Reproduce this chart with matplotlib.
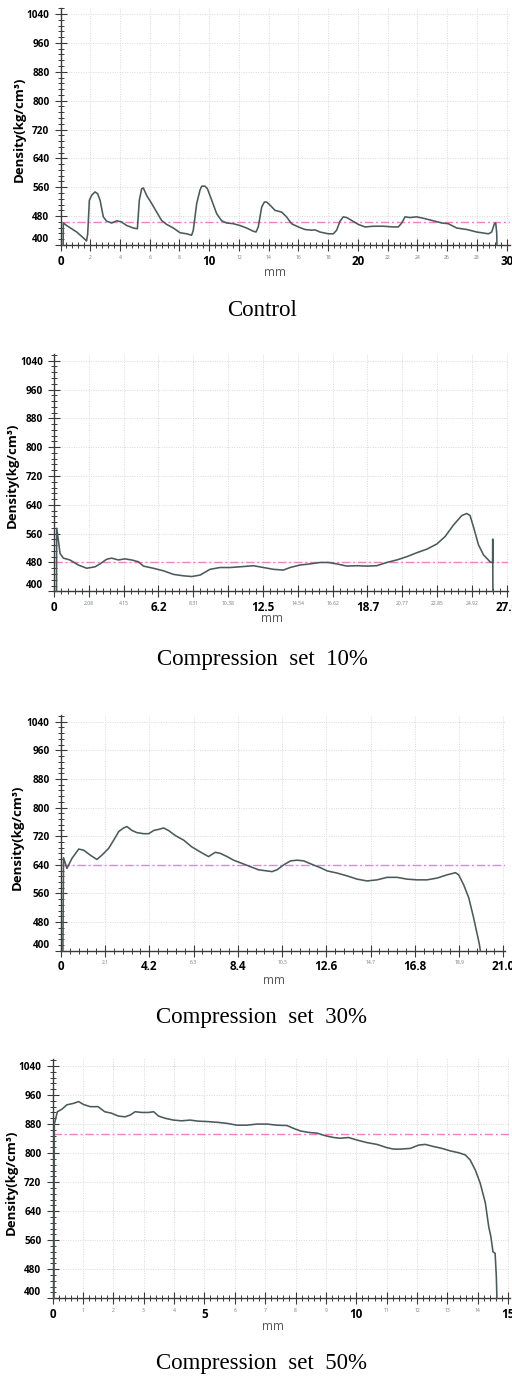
import matplotlib
matplotlib.use('Agg')
import matplotlib.pyplot as plt
from matplotlib.ticker import MultipleLocator

W, H, DPI = 512, 1377, 100
YTOP = 1058

# ---------------- data ----------------
control_x = [0.18, 0.19, 0.41, 1.09, 1.72, 1.75, 1.83, 1.94, 2.10, 2.32, 2.50, 2.66, 2.88, 3.10, 3.44, 3.78,
             4.10, 4.45, 4.90, 5.17, 5.30, 5.46, 5.57, 5.80, 6.13, 6.47, 6.80, 7.14, 7.59, 8.04, 8.49, 8.82,
             8.93, 9.16, 9.38, 9.50, 9.72, 9.88, 10.17, 10.50, 10.84, 11.18, 11.62, 12.07, 12.52, 12.97,
             13.15, 13.30, 13.53, 13.71, 13.87, 14.10, 14.43, 14.88, 15.20, 15.54, 15.99, 16.44, 16.89,
             17.11, 17.45, 18.01, 18.35, 18.57, 18.80, 19.02, 19.25, 19.58, 20.03, 20.48, 21.04, 21.71,
             22.38, 22.72, 22.95, 23.17, 23.50, 23.95, 24.51, 25.08, 25.64, 26.08, 26.65, 27.32, 27.99,
             28.78, 29.00, 29.18, 29.27, 29.34, 29.35]
control_y = [400, 461, 454, 436, 413, 411, 431, 524, 538, 547, 542, 524, 478, 466, 461, 467,
             464, 454, 447, 445, 524, 556, 558, 537, 515, 491, 468, 457, 447, 434, 431, 427,
             441, 515, 552, 563, 563, 556, 524, 487, 467, 461, 459, 454, 447, 438,
             436, 450, 505, 519, 519, 510, 496, 491, 478, 459, 450, 443, 441,
             442, 436, 431, 431, 441, 466, 478, 476, 468, 457, 450, 452, 452,
             450, 450, 461, 478, 476, 478, 473, 467, 461, 459, 447, 443, 436,
             431, 436, 459, 461, 431, 400]

cs10_x = [0.15, 0.16, 0.26, 0.36, 0.56, 0.95, 1.45, 1.95, 2.45, 2.74, 3.14, 3.44, 3.84, 4.23, 4.63, 5.03,
          5.33, 5.92, 6.52, 7.12, 7.71, 8.21, 8.71, 9.30, 9.90, 10.50, 11.09, 11.89, 12.49, 13.08, 13.68,
          14.08, 14.67, 15.27, 15.86, 16.36, 16.86, 17.46, 18.05, 18.65, 19.24, 19.84, 20.44, 21.03,
          21.63, 22.23, 22.82, 23.32, 23.82, 24.31, 24.61, 24.81, 25.01, 25.31, 25.61, 26.00, 26.15,
          26.16, 26.17]
cs10_y = [400, 575, 542, 505, 492, 487, 473, 464, 468, 476, 489, 492, 487, 490, 487, 482,
          470, 464, 457, 447, 443, 441, 445, 461, 466, 466, 468, 471, 466, 461, 459,
          466, 473, 476, 480, 480, 476, 470, 471, 470, 471, 480, 487, 496,
          507, 517, 531, 552, 584, 610, 616, 610, 579, 529, 501, 482, 479,
          545, 400]

cs30_x = [0.10, 0.13, 0.29, 0.53, 0.85, 1.08, 1.40, 1.71, 1.95, 2.27, 2.51, 2.75, 2.98, 3.14, 3.38, 3.61,
          3.93, 4.17, 4.41, 4.64, 4.88, 5.11, 5.43, 5.83, 6.22, 6.62, 7.01, 7.33, 7.57, 7.89, 8.20, 8.60,
          8.99, 9.39, 9.78, 10.02, 10.26, 10.58, 10.90, 11.21, 11.53, 11.93, 12.32, 12.64, 13.11, 13.59,
          14.06, 14.53, 15.01, 15.48, 15.96, 16.43, 16.91, 17.38, 17.86, 18.33, 18.73, 18.88, 19.12,
          19.36, 19.59, 19.86, 19.91]
cs30_y = [400, 660, 630, 658, 684, 681, 667, 655, 667, 686, 709, 733, 743, 747, 736, 730,
          727, 727, 736, 739, 743, 736, 722, 709, 690, 676, 663, 675, 672, 663, 653, 644,
          635, 626, 623, 621, 626, 640, 651, 653, 651, 641, 632, 623, 617, 609,
          600, 595, 598, 605, 605, 600, 598, 598, 603, 612, 618, 612, 584,
          548, 492, 419, 400]

cs50_x = [0.05, 0.06, 0.16, 0.31, 0.47, 0.69, 0.86, 1.02, 1.24, 1.50, 1.72, 1.94, 2.17, 2.39, 2.56, 2.72,
          2.94, 3.16, 3.33, 3.49, 3.71, 3.98, 4.25, 4.53, 4.80, 5.08, 5.41, 5.74, 6.07, 6.39, 6.73, 7.06,
          7.39, 7.72, 7.94, 8.16, 8.43, 8.71, 8.98, 9.25, 9.47, 9.75, 10.02, 10.35, 10.68, 11.01, 11.23,
          11.45, 11.78, 12.05, 12.27, 12.55, 12.82, 13.10, 13.37, 13.59, 13.75, 13.92, 14.08, 14.25,
          14.36, 14.43, 14.50, 14.57, 14.61, 14.63]
cs50_y = [400, 880, 914, 921, 933, 937, 942, 934, 928, 928, 914, 910, 902, 900, 905, 914,
          912, 912, 914, 902, 896, 891, 889, 891, 888, 887, 885, 882, 877, 877, 880, 880,
          877, 876, 868, 861, 857, 855, 848, 843, 841, 843, 836, 829, 824, 815, 811,
          811, 813, 822, 824, 818, 813, 806, 801, 795, 781, 753, 717, 662,
          597, 570, 528, 524, 460, 400]

mean_density = [465, 480, 640, 852]

captions = ["Control", "Compression  set  10%", "Compression  set  30%", "Compression  set  50%"]

xticks_control = [0, 2, 4, 6, 8, 10, 12, 14, 16, 18, 20, 22, 24, 26, 28, 30]
xlabels_control = ["0", "2", "4", "6", "8", "10", "12", "14", "16", "18", "20", "22", "24", "26", "28", "30"]
xbig_control = ["0", "10", "20", "30"]

xticks_cs10 = [k * 27 / 13 for k in range(14)]
xlabels_cs10 = ["0", "2.08", "4.15", "6.2", "8.31", "10.38", "12.5", "14.54", "16.62", "18.7",
                "20.77", "22.85", "24.92", "27.0"]
xbig_cs10 = ["0", "6.2", "12.5", "18.7", "27.0"]

xticks_cs30 = [0, 2.1, 4.2, 6.3, 8.4, 10.5, 12.6, 14.7, 16.8, 18.9, 21.0]
xlabels_cs30 = ["0", "2.1", "4.2", "6.3", "8.4", "10.5", "12.6", "14.7", "16.8", "18.9", "21.0"]
xbig_cs30 = ["0", "4.2", "8.4", "12.6", "16.8", "21.0"]

xticks_cs50 = list(range(16))
xlabels_cs50 = [str(v) for v in xticks_cs50]
xbig_cs50 = ["0", "5", "10", "15"]

yticks = [400, 480, 560, 640, 720, 800, 880, 960, 1040]

# ---------------- layout (pixels) ----------------
panels = [
    dict(x=control_x, y=control_y, xt=xticks_control, xl=xlabels_control, xb=xbig_control,
         px_l=60.5, px_r=510, xr=30.23, px_b=245.0, px_1040=14.0,
         ylab=(19, 129), mm=(275, 273), cap=(262, 310)),
    dict(x=cs10_x, y=cs10_y, xt=xticks_cs10, xl=xlabels_cs10, xb=xbig_cs10,
         px_l=54.0, px_r=508, xr=27.07, px_b=591.3, px_1040=360.7,
         ylab=(12, 475), mm=(272, 618), cap=(262, 660)),
    dict(x=cs30_x, y=cs30_y, xt=xticks_cs30, xl=xlabels_cs30, xb=xbig_cs30,
         px_l=60.8, px_r=505, xr=21.08, px_b=950.7, px_1040=721.7,
         ylab=(17, 837), mm=(274, 980), cap=(262, 1018)),
    dict(x=cs50_x, y=cs50_y, xt=xticks_cs50, xl=xlabels_cs50, xb=xbig_cs50,
         px_l=52.5, px_r=510, xr=15.06, px_b=1298.3, px_1040=1066.0,
         ylab=(11, 1182), mm=(273, 1327), cap=(262, 1364)),
]

LINE_C = '#4b5a5c'
MEAN_C = '#ee80cc'
GRID_C = '#d9d9d9'
AX_C = '#3a3a3a'
FONT = 'Open Sans'

fig = plt.figure(figsize=(W / DPI, H / DPI), dpi=DPI)

for i, p in enumerate(panels):
    s = (p['px_b'] - p['px_1040']) / 640.0
    px_top = p['px_1040'] - (YTOP - 1040) * s
    ax = fig.add_axes([p['px_l'] / W, 1 - p['px_b'] / H,
                       (p['px_r'] - p['px_l']) / W, (p['px_b'] - px_top) / H])
    ax.set_xlim(0, p['xr'])
    ax.set_ylim(400, YTOP)
    for side in ['top', 'right']:
        ax.spines[side].set_visible(False)
    for side in ['left', 'bottom']:
        ax.spines[side].set_color(AX_C)
        ax.spines[side].set_linewidth(1.0)

    ax.grid(True, which='major', color=GRID_C, linestyle=(0, (1, 1.5)), linewidth=0.7)
    ax.set_axisbelow(True)

    ax.plot(p['x'], p['y'], color=LINE_C, lw=1.15, zorder=3, clip_on=False)
    ax.axhline(mean_density[i], color=MEAN_C, lw=1.0, dashes=(6, 2, 1.5, 2), zorder=2)

    # y ticks
    ax.set_yticks(yticks)
    ax.set_yticklabels([str(v) for v in yticks])
    ax.yaxis.set_minor_locator(MultipleLocator(16))
    ax.tick_params(axis='y', which='major', direction='inout', length=8, width=0.8, color=AX_C, pad=4)
    ax.tick_params(axis='y', which='minor', direction='inout', length=5, width=0.7, color=AX_C)
    for lbl in ax.get_yticklabels():
        lbl.set_fontfamily(FONT)
        lbl.set_fontweight('bold')
        lbl.set_fontsize(7.2)
        lbl.set_color('black')
        if lbl.get_text() == '400':
            lbl.set_va('bottom')

    # x ticks
    step = p['xt'][1] - p['xt'][0]
    ax.set_xticks(p['xt'])
    ax.set_xticklabels(p['xl'])
    ax.xaxis.set_minor_locator(MultipleLocator(step / 5))
    ax.tick_params(axis='x', which='major', direction='inout', length=9, width=0.8, color=AX_C, pad=2.5)
    ax.tick_params(axis='x', which='minor', direction='inout', length=5, width=0.7, color=AX_C)
    for lbl in ax.get_xticklabels():
        lbl.set_fontfamily(FONT)
        if lbl.get_text() in p['xb']:
            lbl.set_fontweight('bold')
            lbl.set_fontsize(8.4)
            lbl.set_color('black')
        else:
            lbl.set_fontsize(3.6)
            lbl.set_color('#6f7f7a')

    # labels as figure text
    fig.text(p['ylab'][0] / W, 1 - p['ylab'][1] / H, 'Density(kg/cm³)', rotation=90,
             ha='center', va='center', fontsize=9.5, fontweight='bold', family=FONT, color='black')
    fig.text(p['mm'][0] / W, 1 - p['mm'][1] / H, 'mm', ha='center', va='center',
             fontsize=8.5, family=FONT, color='#555555')
    fig.text(p['cap'][0] / W, 1 - p['cap'][1] / H, captions[i], ha='center', va='center',
             fontsize=16.5, family='Liberation Serif', color='black')

fig.savefig('out.png', dpi=DPI)
